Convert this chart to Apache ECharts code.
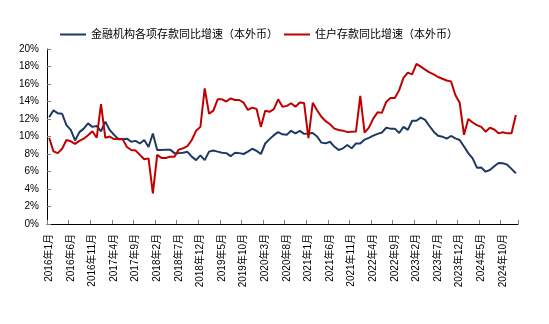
<!DOCTYPE html>
<html>
<head>
<meta charset="utf-8">
<script src="https://cdn.jsdelivr.net/npm/echarts@6/dist/echarts.min.js"></script>
<style>html,body{margin:0;padding:0;background:#fff}#c{width:549px;height:324px}</style>
</head>
<body>
<div id="c"></div>
<script>
// Categories: monthly from 2016-01 to 2025-01
var startYear = 2016, startMonth = 1, monthCount = 109;
var categories = [];
for (var k = 0; k < monthCount; k++) {
  var m = startMonth - 1 + k;
  categories.push((startYear + Math.floor(m / 12)) + '年' + (m % 12 + 1) + '月');
}
var seriesNames = ['金融机构各项存款同比增速（本外币）', '住户存款同比增速（本外币）'];
var totalDeposits = [
  12.2,13.0,12.65,12.6,11.3,10.75,9.55,10.5,10.9,11.5,11.1,11.2,
  10.6,11.7,10.75,10.2,9.7,9.7,9.75,9.4,9.5,9.2,9.6,8.8,
  10.35,8.45,8.45,8.5,8.5,8.1,8.1,8.15,8.25,7.7,7.3,7.85,
  7.3,8.27,8.4,8.27,8.15,8.1,7.75,8.15,8.1,8.0,8.27,8.6,
  8.35,8.0,9.2,9.7,10.15,10.5,10.25,10.2,10.65,10.35,10.65,10.3,
  10.35,10.4,10.0,9.3,9.22,9.4,8.85,8.46,8.65,9.03,8.65,9.2,
  9.2,9.65,9.85,10.1,10.3,10.45,11.0,10.9,10.9,10.4,11.1,10.75,
  11.8,11.8,12.15,11.9,11.2,10.55,10.08,9.98,9.75,10.06,9.79,9.6,
  8.85,8.1,7.5,6.44,6.46,5.98,6.17,6.6,6.97,6.95,6.78,6.3,
  5.8
];
var householdDeposits = [
  9.85,8.3,8.1,8.6,9.6,9.45,9.15,9.5,9.75,10.15,10.6,9.85,
  13.7,9.85,10.0,9.7,9.75,9.7,8.8,8.46,8.4,7.9,7.4,7.5,
  3.5,7.9,7.55,7.55,7.7,7.7,8.5,8.65,8.9,9.6,10.65,11.1,
  15.5,12.6,12.95,14.25,14.25,14.0,14.35,14.17,14.17,13.87,13.03,13.3,
  13.15,11.1,12.95,12.82,13.12,14.25,13.4,13.5,13.8,13.4,13.88,13.82,
  9.8,13.85,13.0,12.25,11.75,11.4,10.9,10.74,10.67,10.5,10.55,10.57,
  14.65,10.45,11.02,12.05,12.76,12.7,13.95,14.4,14.4,15.3,16.7,17.3,
  17.1,18.3,17.98,17.65,17.33,17.1,16.8,16.6,16.4,16.3,14.74,13.87,
  10.2,12.0,11.6,11.3,11.1,10.55,11.0,10.8,10.36,10.48,10.36,10.36,
  12.46
];
var yTicks = {min: 0, max: 20, interval: 2};

var font = '"Liberation Sans", Arial, "Noto Sans CJK SC", sans-serif';
var chart = echarts.init(document.getElementById('c'), null, {renderer: 'canvas'});
chart.setOption({
  animation: false,
  textStyle: {fontFamily: font},
  legend: {
    left: 55, top: 24,
    icon: 'rect',
    itemWidth: 26, itemHeight: 2, itemGap: 6,
    textStyle: {fontSize: 11, color: '#000', fontFamily: font},
    data: seriesNames
  },
  grid: {left: 47, right: 31, top: 49, bottom: 100, containLabel: false},
  xAxis: {
    type: 'category',
    data: categories,
    boundaryGap: true,
    axisLine: {lineStyle: {color: '#000', width: 1}},
    axisTick: {show: true, inside: true, length: 4, interval: 4, lineStyle: {color: '#808080'}},
    axisLabel: {interval: 4, rotate: 90, fontSize: 10, color: '#000', margin: 10, fontFamily: font},
    splitLine: {show: false}
  },
  yAxis: {
    type: 'value',
    min: yTicks.min, max: yTicks.max, interval: yTicks.interval,
    axisLine: {show: true, lineStyle: {color: '#000', width: 1}},
    axisTick: {show: true, inside: true, length: 4, lineStyle: {color: '#808080'}},
    axisLabel: {formatter: '{value}%', fontSize: 10, color: '#000', margin: 8, fontFamily: font},
    splitLine: {show: false}
  },
  series: [
    {name: seriesNames[0], type: 'line', data: totalDeposits, symbol: 'none',
     lineStyle: {color: '#203864', width: 2}, itemStyle: {color: '#203864'}},
    {name: seriesNames[1], type: 'line', data: householdDeposits, symbol: 'none',
     lineStyle: {color: '#C00000', width: 2}, itemStyle: {color: '#C00000'}}
  ]
});
</script>
</body>
</html>
